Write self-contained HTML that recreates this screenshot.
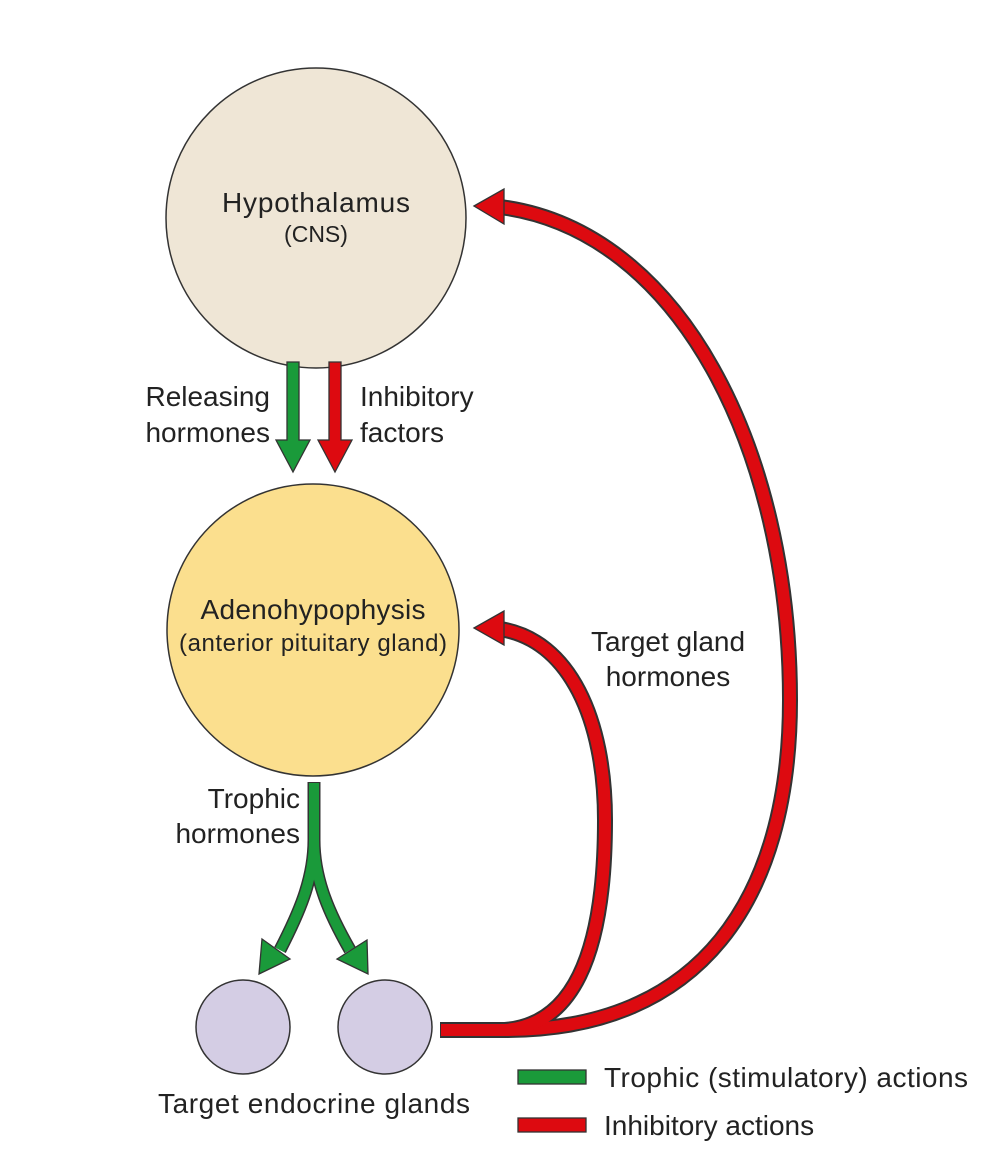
<!DOCTYPE html>
<html><head><meta charset="utf-8"><style>
html,body{margin:0;padding:0;background:#fff}
svg{display:block}
text{font-family:"Liberation Sans",Arial,sans-serif;fill:#222}
</style></head><body>
<svg width="1000" height="1163" viewBox="0 0 1000 1163" xmlns="http://www.w3.org/2000/svg">
<circle cx="316" cy="218" r="150" fill="#efe6d6" stroke="#333" stroke-width="1.5"/>
<circle cx="313" cy="630" r="146" fill="#fbdf8e" stroke="#333" stroke-width="1.5"/>
<circle cx="243" cy="1027" r="47" fill="#d4cde4" stroke="#333" stroke-width="1.5"/>
<circle cx="385" cy="1027" r="47" fill="#d4cde4" stroke="#333" stroke-width="1.5"/>

<text x="316" y="212" font-size="28" text-anchor="middle" textLength="188">Hypothalamus</text>
<text x="316" y="242" font-size="23" text-anchor="middle">(CNS)</text>
<text x="313" y="619" font-size="28" text-anchor="middle" textLength="225">Adenohypophysis</text>
<text x="313" y="651" font-size="24" text-anchor="middle" textLength="268">(anterior pituitary gland)</text>

<text x="270" y="406" font-size="28" text-anchor="end">Releasing</text>
<text x="270" y="442" font-size="28" text-anchor="end">hormones</text>
<text x="360" y="406" font-size="28">Inhibitory</text>
<text x="360" y="442" font-size="28">factors</text>
<text x="300" y="808" font-size="28" text-anchor="end">Trophic</text>
<text x="300" y="843" font-size="28" text-anchor="end">hormones</text>
<text x="668" y="651" font-size="28" text-anchor="middle">Target gland</text>
<text x="668" y="686" font-size="28" text-anchor="middle">hormones</text>
<text x="314" y="1113" font-size="28" text-anchor="middle" textLength="312">Target endocrine glands</text>
<text x="604" y="1087" font-size="28" textLength="364">Trophic (stimulatory) actions</text>
<text x="604" y="1135" font-size="28">Inhibitory actions</text>

<g stroke="#333" stroke-width="1.3" stroke-linejoin="miter">
<path d="M287,362 H299 V440 H310 L293,472 L276,440 H287 Z" fill="#1a9a3a"/>
<path d="M329,362 H341 V440 H352 L335,472 L318,440 H329 Z" fill="#dd0a10"/>
</g>

<g fill="none" stroke-linecap="butt">
<path d="M314,782 V840 C314,880 298,915 280,950" stroke="#333" stroke-width="13"/>
<path d="M314,782 V840 C314,880 330,915 350,950" stroke="#333" stroke-width="13"/>
<path d="M314,783 V840 C314,880 298,915 280,950" stroke="#1a9a3a" stroke-width="10"/>
<path d="M314,783 V840 C314,880 330,915 350,950" stroke="#1a9a3a" stroke-width="10"/>
</g>
<g stroke="#333" stroke-width="1.3" fill="#1a9a3a">
<path d="M262,939 L290,959 L259,974 Z"/>
<path d="M367,940 L368,974 L337,959 Z"/>
</g>

<g fill="none">
<path d="M440,1030 H505 C700,1030 790,900 790,700 C790,450 680,230 500,207" stroke="#333" stroke-width="16"/>
<path d="M505,1030 C570,1025 605,960 605,820 C605,720 570,640 500,629" stroke="#333" stroke-width="16"/>
<path d="M441,1030 H505 C700,1030 790,900 790,700 C790,450 680,230 500,207" stroke="#dd0a10" stroke-width="12"/>
<path d="M505,1030 C570,1025 605,960 605,820 C605,720 570,640 500,629" stroke="#dd0a10" stroke-width="12"/>
</g>
<g stroke="#333" stroke-width="1.3" fill="#dd0a10">
<path d="M474,206 L504,189 L504,224 Z"/>
<path d="M474,628 L504,611 L504,645 Z"/>
</g>

<rect x="518" y="1070" width="68" height="14" fill="#1a9a3a" stroke="#333" stroke-width="1.3"/>
<rect x="518" y="1118" width="68" height="14" fill="#dd0a10" stroke="#333" stroke-width="1.3"/>
</svg>
</body></html>
